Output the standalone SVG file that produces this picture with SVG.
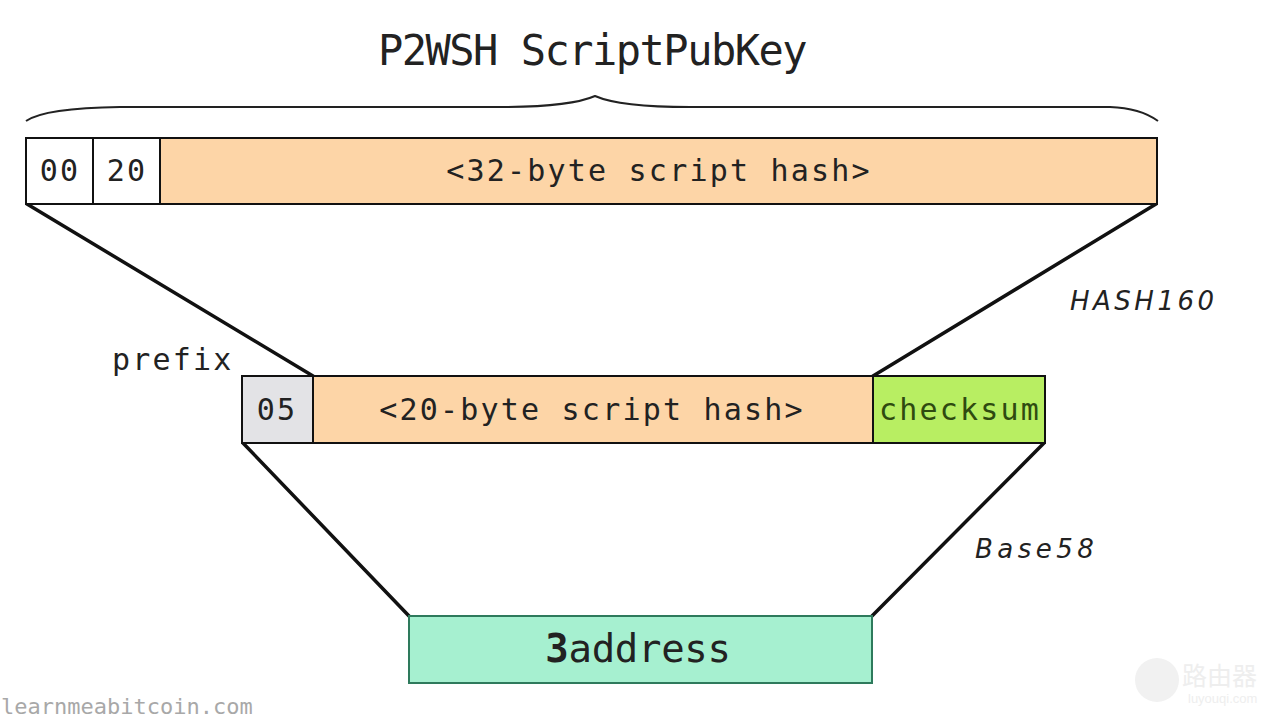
<svg xmlns="http://www.w3.org/2000/svg" width="1275" height="720" viewBox="0 0 1275 720">
<style>
  .mono { font-family: "DejaVu Sans Mono", "Liberation Mono", monospace; fill: #222; }
  .cell { font-size: 30px; letter-spacing: 2.2px; }
  .box { stroke: #111; stroke-width: 2; }
  .conn { stroke: #111; stroke-width: 3.5; fill: none; stroke-linecap: round; }
  .lbl { font-family: "DejaVu Sans", "Liberation Sans", sans-serif; font-style: italic; font-size: 26px; fill: #222; }
</style>
<rect width="1275" height="720" fill="#ffffff"/>

<g id="title">
  <text class="mono" x="592" y="65" font-size="42" letter-spacing="-1.5" text-anchor="middle">P2WSH ScriptPubKey</text>
  <path d="M 26 121 Q 45 108 120 107 L 500 107 Q 570 107 595 96 Q 620 107 690 107 L 1110 107 Q 1140 108 1158 121" fill="none" stroke="#222" stroke-width="2"/>
</g>

<g id="connectors">
  <line class="conn" x1="27" y1="204" x2="313" y2="376"/>
  <line class="conn" x1="1156" y1="204" x2="873" y2="376"/>
  <line class="conn" x1="243" y1="443" x2="409" y2="616"/>
  <line class="conn" x1="1044" y1="443" x2="872" y2="616"/>
</g>

<g id="scriptpubkey">
  <rect class="box" x="26" y="138" width="67" height="66" fill="#ffffff"/>
  <rect class="box" x="93" y="138" width="67" height="66" fill="#ffffff"/>
  <rect class="box" x="160" y="138" width="997" height="66" fill="#FDD5A7"/>
  <text class="mono cell" x="60" y="181" text-anchor="middle">00</text>
  <text class="mono cell" x="127" y="181" text-anchor="middle">20</text>
  <text class="mono cell" x="659" y="181" text-anchor="middle">&lt;32-byte script hash&gt;</text>
</g>

<g id="hash-row">
  <rect class="box" x="242" y="376" width="71" height="67" fill="#E3E3E6"/>
  <rect class="box" x="313" y="376" width="560" height="67" fill="#FDD5A7"/>
  <rect class="box" x="873" y="376" width="172" height="67" fill="#B8EE62"/>
  <text class="mono cell" x="277" y="420" text-anchor="middle">05</text>
  <text class="mono cell" x="592" y="420" text-anchor="middle">&lt;20-byte script hash&gt;</text>
  <text class="mono cell" x="960" y="420" text-anchor="middle" style="fill:#2F4A10" letter-spacing="1">checksum</text>
</g>

<g id="prefix-label">
  <text class="mono cell" x="112" y="370">prefix</text>
</g>

<g id="hash160-label">
  <text class="lbl" x="1070" y="310" letter-spacing="3.5">HASH160</text>
</g>

<g id="base58-label">
  <text class="lbl" x="975" y="558" letter-spacing="4.5">Base58</text>
</g>

<g id="address">
  <rect x="409" y="616" width="463" height="67" fill="#A6F0D0" stroke="#2E7A5C" stroke-width="2"/>
  <text class="mono" x="638" y="662" font-size="39" letter-spacing="-0.3" text-anchor="middle"><tspan font-weight="bold">3</tspan>address</text>
</g>

<g id="watermark">
  <text class="mono" x="1" y="714" font-size="22" style="fill:#a8a8a8">learnmeabitcoin.com</text>
  <circle cx="1157" cy="680" r="22" fill="#f1f1f1"/>
  <text x="1182" y="685" font-family="Noto Sans CJK SC, sans-serif" font-size="25" fill="#eeeeee">路由器</text>
  <text x="1188" y="703" font-family="Liberation Sans, sans-serif" font-size="13" fill="#eeeeee">luyouqi.com</text>
</g>
</svg>
